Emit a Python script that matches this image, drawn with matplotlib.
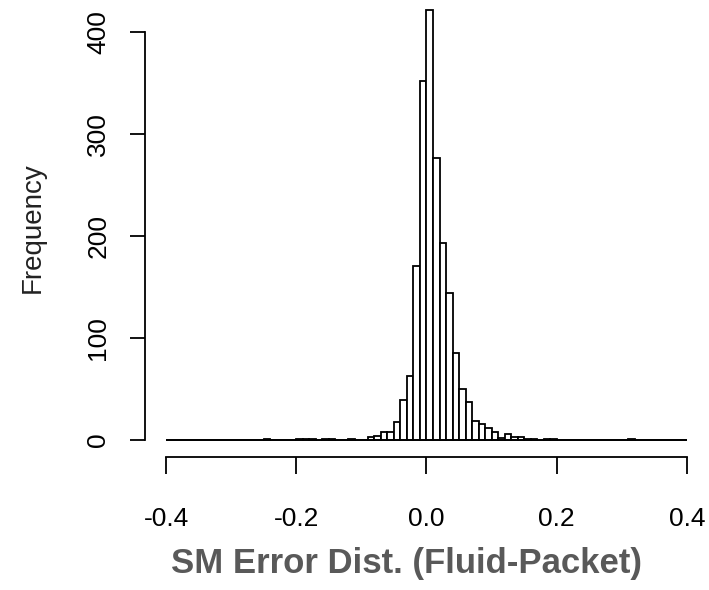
import numpy as np
import matplotlib
matplotlib.use("Agg")
import matplotlib.pyplot as plt

# Histogram bins: width 0.01 over [-0.4, 0.4]
bin_start = -0.40
bin_stop = 0.40
bin_width = 0.01

# Non-empty bins: left edge -> count
bin_lefts = [-0.25, -0.20, -0.19, -0.18, -0.16, -0.15, -0.12,
             -0.09, -0.08, -0.07, -0.06, -0.05, -0.04, -0.03, -0.02, -0.01,
             0.00, 0.01, 0.02, 0.03, 0.04, 0.05, 0.06, 0.07, 0.08, 0.09,
             0.10, 0.11, 0.12, 0.13, 0.14, 0.15, 0.16, 0.18, 0.19, 0.31]
bin_counts = [1, 1, 1, 1, 1, 1, 1,
              3, 4, 8, 8, 18, 39, 63, 171, 352,
              422, 277, 193, 144, 85, 50, 37, 19, 16, 12,
              8, 2, 6, 3, 3, 1, 1, 1, 1, 1]

x_ticks = [-0.4, -0.2, 0.0, 0.2, 0.4]
x_tick_labels = ["-0.4", "-0.2", "0.0", "0.2", "0.4"]
y_ticks = [0, 100, 200, 300, 400]
x_label = "SM Error Dist. (Fluid-Packet)"
y_label = "Frequency"

edges = np.round(np.arange(bin_start, bin_stop + bin_width / 2, bin_width), 4)
counts = np.zeros(len(edges) - 1)
for left, c in zip(bin_lefts, bin_counts):
    counts[int(round((left - bin_start) / bin_width))] = c

plt.rcParams["font.family"] = ["Liberation Sans", "DejaVu Sans"]

W, H = 709, 590
fig = plt.figure(figsize=(W / 100, H / 100), dpi=100)

# R-style 4% padding around the data range
xpad = 0.04 * (bin_stop - bin_start)
ypad = 0.04 * counts.max()
xlim = (bin_start - xpad, bin_stop + xpad)
ylim = (-ypad, counts.max() + ypad)

left_px, right_px = 145.2, 707.8
bottom_px = 457.2
top_px = bottom_px - (ylim[1] - ylim[0]) * 1.0193
ax = fig.add_axes([left_px / W, 1 - bottom_px / H,
                   (right_px - left_px) / W, (bottom_px - top_px) / H])
ax.set_xlim(*xlim)
ax.set_ylim(*ylim)
ax.patch.set_alpha(0)

ax.bar(edges[:-1], counts, width=bin_width, align="edge",
       facecolor="white", edgecolor="black", linewidth=1.3, clip_on=False)
# zero-count bins drawn as a flat outline along the baseline
ax.plot([edges[0], edges[-1]], [0, 0], color="black", linewidth=1.3,
        solid_capstyle="butt", clip_on=False)

for side in ("top", "right"):
    ax.spines[side].set_visible(False)
ax.spines["bottom"].set_bounds(x_ticks[0], x_ticks[-1])
ax.spines["left"].set_bounds(y_ticks[0], y_ticks[-1])
for side in ("bottom", "left"):
    ax.spines[side].set_linewidth(1.3)

ax.set_xticks(x_ticks)
ax.set_xticklabels(x_tick_labels)
ax.set_yticks(y_ticks)
ax.tick_params(axis="x", direction="out", length=12.5, width=1.3,
               pad=23, labelsize=19)
ax.tick_params(axis="y", direction="out", length=11, width=1.3,
               pad=14, labelsize=19, labelrotation=90)
for lbl in ax.get_yticklabels():
    lbl.set_verticalalignment("center")

fig.text(33 / W, 1 - 228 / H, y_label, rotation=90, ha="center",
         va="center", fontsize=20, color="#222222")
fig.text(406.7 / W, 1 - 563 / H, x_label, ha="center", va="center",
         fontsize=25, fontweight="bold", color="#595959")

fig.savefig("out.png", dpi=100)
